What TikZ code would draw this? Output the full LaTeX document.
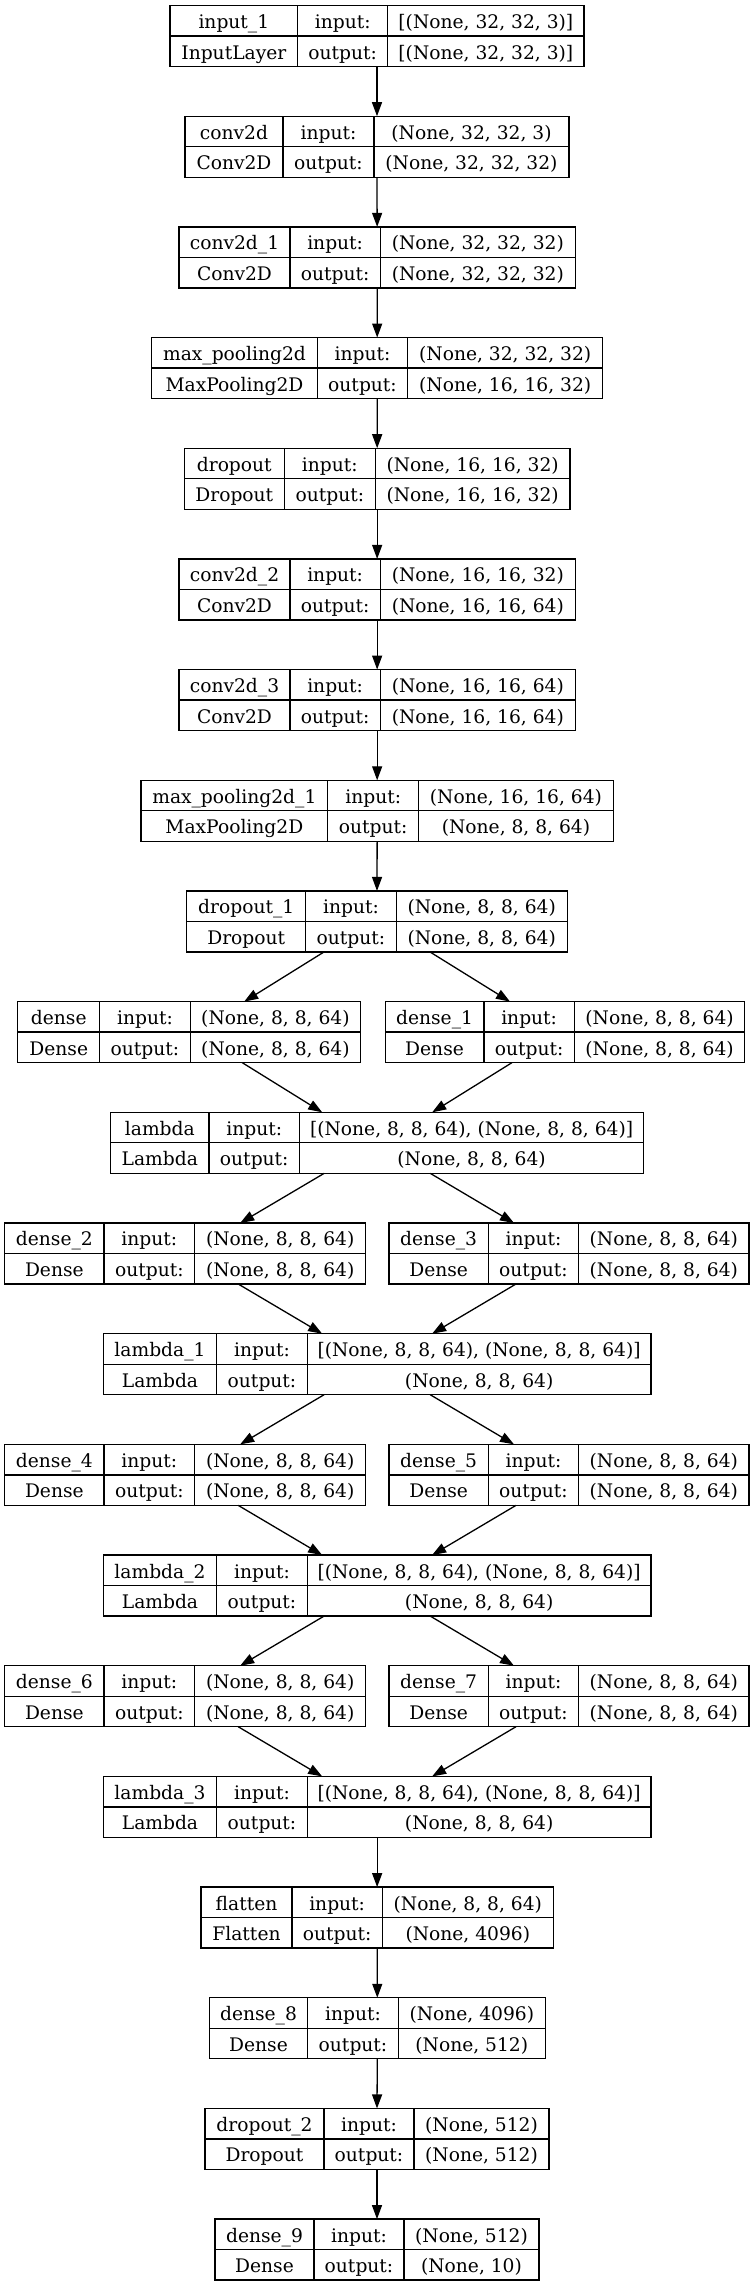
\documentclass[tikz,border=0pt]{standalone}
\usepackage{fontspec}
\setmainfont{DejaVu Serif}
\usetikzlibrary{arrows.meta,calc}
\tikzset{
  layerbox/.style={draw=black, line width=1.3pt, inner sep=0pt, outer sep=0pt, anchor=north west, minimum height=61pt},
  cellline/.style={draw=black, line width=1.3pt},
  celltext/.style={anchor=base, inner sep=0pt, font=\fontsize{18.67pt}{22pt}\selectfont},
  edge/.style={draw=black, line width=1.3pt, -{Triangle[length=14pt,width=10pt]}},
}
\def\layerio#1#2{\def\lytin{#1}\def\lytout{#2}}
% #1 node name, #2 row, #3 left, #4 divider 1, #5 divider 2, #6 right, #7 name, #8 class, #9 {in}{out}
\newcommand\layer[9]{%
  \layerio#9%
  \pgfmathsetmacro\lyyt{5.5+110.68*#2}%
  \pgfmathsetmacro\lyym{\lyyt+30.5}%
  \pgfmathsetmacro\lyyb{\lyyt+61}%
  \pgfmathsetmacro\lyboxw{#6-#3}%
  \node[layerbox, minimum width=\lyboxw pt] (#1) at (#3,\lyyt) {};
  \draw[cellline] (#4,\lyyt) -- (#4,\lyyb) (#5,\lyyt) -- (#5,\lyyb) (#3,\lyym) -- (#6,\lyym);
  \node[celltext] (#1-name) at ({(#3+#4)/2},\lyyt+23) {#7};
  \node[celltext] (#1-class) at ({(#3+#4)/2},\lyym+23) {#8};
  \node[celltext] (#1-inl) at ({(#4+#5)/2},\lyyt+23) {input:};
  \node[celltext] (#1-outl) at ({(#4+#5)/2},\lyym+23) {output:};
  \node[celltext] (#1-in) at ({(#5+#6)/2},\lyyt+23) {\lytin};
  \node[celltext] (#1-out) at ({(#5+#6)/2},\lyym+23) {\lytout};
}
\begin{document}
\begin{tikzpicture}[x=1pt,y=-1pt]
\fill[white] (0,0) rectangle (755,2287);
\useasboundingbox (0,0) rectangle (755,2287);

\layer{in1}{0}{170}{297.7}{387.7}{584}{input\_1}{InputLayer}{{[(None, 32, 32, 3)]}{[(None, 32, 32, 3)]}}
\layer{c0}{1}{185}{283}{374}{569}{conv2d}{Conv2D}{{(None, 32, 32, 3)}{(None, 32, 32, 32)}}
\layer{c1}{2}{179}{290}{380.3}{575.3}{conv2d\_1}{Conv2D}{{(None, 32, 32, 32)}{(None, 32, 32, 32)}}
\layer{mp0}{3}{151.7}{317.3}{407.7}{602.7}{max\_pooling2d}{MaxPooling2D}{{(None, 32, 32, 32)}{(None, 16, 16, 32)}}
\layer{do0}{4}{184.3}{284.3}{375.3}{570}{dropout}{Dropout}{{(None, 16, 16, 32)}{(None, 16, 16, 32)}}
\layer{c2}{5}{179}{290}{380.3}{575.3}{conv2d\_2}{Conv2D}{{(None, 16, 16, 32)}{(None, 16, 16, 64)}}
\layer{c3}{6}{179}{290}{380.3}{575.3}{conv2d\_3}{Conv2D}{{(None, 16, 16, 64)}{(None, 16, 16, 64)}}
\layer{mp1}{7}{141}{327.7}{418.7}{613.3}{max\_pooling2d\_1}{MaxPooling2D}{{(None, 16, 16, 64)}{(None, 8, 8, 64)}}
\layer{do1}{8}{186.8}{305.7}{396.2}{567.2}{dropout\_1}{Dropout}{{(None, 8, 8, 64)}{(None, 8, 8, 64)}}
\layer{d0}{9}{17.8}{99.7}{190.2}{360.6}{dense}{Dense}{{(None, 8, 8, 64)}{(None, 8, 8, 64)}}
\layer{d1}{9}{385.2}{483.9}{574.4}{744.8}{dense\_1}{Dense}{{(None, 8, 8, 64)}{(None, 8, 8, 64)}}
\layer{l0}{10}{110.7}{209}{299.5}{643.7}{lambda}{Lambda}{{[(None, 8, 8, 64), (None, 8, 8, 64)]}{(None, 8, 8, 64)}}
\layer{d2}{11}{4.7}{104}{194.7}{365.7}{dense\_2}{Dense}{{(None, 8, 8, 64)}{(None, 8, 8, 64)}}
\layer{d3}{11}{389}{488.3}{578.7}{749}{dense\_3}{Dense}{{(None, 8, 8, 64)}{(None, 8, 8, 64)}}
\layer{l1}{12}{103.3}{216.7}{307.3}{651}{lambda\_1}{Lambda}{{[(None, 8, 8, 64), (None, 8, 8, 64)]}{(None, 8, 8, 64)}}
\layer{d4}{13}{4.7}{104}{194.7}{365.7}{dense\_4}{Dense}{{(None, 8, 8, 64)}{(None, 8, 8, 64)}}
\layer{d5}{13}{389}{488.3}{578.7}{749}{dense\_5}{Dense}{{(None, 8, 8, 64)}{(None, 8, 8, 64)}}
\layer{l2}{14}{103.3}{216.7}{307.3}{651}{lambda\_2}{Lambda}{{[(None, 8, 8, 64), (None, 8, 8, 64)]}{(None, 8, 8, 64)}}
\layer{d6}{15}{4.7}{104}{194.7}{365.7}{dense\_6}{Dense}{{(None, 8, 8, 64)}{(None, 8, 8, 64)}}
\layer{d7}{15}{389}{488.3}{578.7}{749}{dense\_7}{Dense}{{(None, 8, 8, 64)}{(None, 8, 8, 64)}}
\layer{l3}{16}{103.3}{216.7}{307.3}{651}{lambda\_3}{Lambda}{{[(None, 8, 8, 64), (None, 8, 8, 64)]}{(None, 8, 8, 64)}}
\layer{fl}{17}{201}{292}{382.3}{553.3}{flatten}{Flatten}{{(None, 8, 8, 64)}{(None, 4096)}}
\layer{d8}{18}{209.3}{307.7}{398.3}{545.3}{dense\_8}{Dense}{{(None, 4096)}{(None, 512)}}
\layer{do2}{19}{205}{324}{414}{549}{dropout\_2}{Dropout}{{(None, 512)}{(None, 512)}}
\layer{d9}{20}{215}{314}{404}{539}{dense\_9}{Dense}{{(None, 512)}{(None, 10)}}

% straight chain
\foreach \a/\b in {in1/c0, c0/c1, c1/mp0, mp0/do0, do0/c2, c2/c3, c3/mp1, mp1/do1, l3/fl, fl/d8, d8/do2, do2/d9}
  \draw[edge] (\a.south) -- (\b.north);

% branches
\foreach \s/\l/\r in {do1/d0/d1, l0/d2/d3, l1/d4/d5, l2/d6/d7} {
  \draw[edge] ($(\s.south)+(-53,0)$) -- ($(\l.north)+(55,0)$);
  \draw[edge] ($(\s.south)+(53,0)$) -- ($(\r.north)+(-55,0)$);
}
\foreach \l/\r/\t in {d0/d1/l0, d2/d3/l1, d4/d5/l2, d6/d7/l3} {
  \draw[edge] ($(\l.south)+(53,0)$) -- ($(\t.north)+(-55,0)$);
  \draw[edge] ($(\r.south)+(-53,0)$) -- ($(\t.north)+(55,0)$);
}
\end{tikzpicture}
\end{document}
